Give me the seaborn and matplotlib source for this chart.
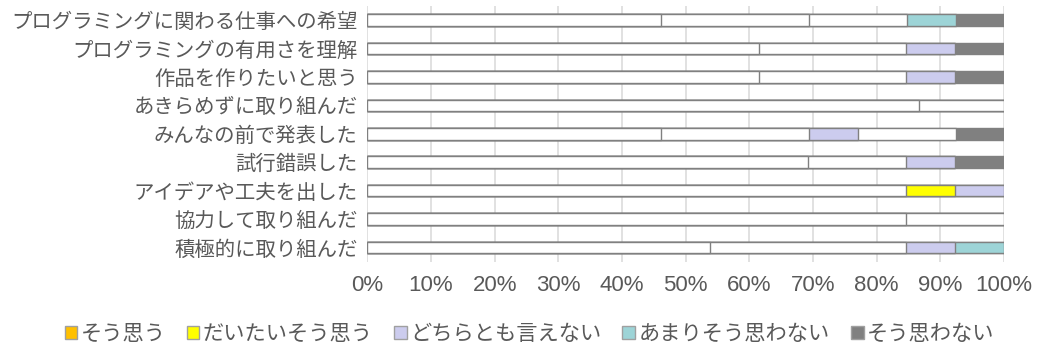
import matplotlib
matplotlib.use("Agg")
import matplotlib.pyplot as plt
import seaborn as sns
import numpy as np
import pandas as pd
from matplotlib.patches import Patch

# ---- data (percent of respondents) ----
categories = [
    "プログラミングに関わる仕事への希望",
    "プログラミングの有用さを理解",
    "作品を作りたいと思う",
    "あきらめずに取り組んだ",
    "みんなの前で発表した",
    "試行錯誤した",
    "アイデアや工夫を出した",
    "協力して取り組んだ",
    "積極的に取り組んだ",
]
series_names = ["そう思う", "だいたいそう思う", "どちらとも言えない", "あまりそう思わない", "そう思わない"]
sou_omou      = [46.2, 61.5, 61.5, 86.7, 46.2, 69.2, 84.6, 84.6, 53.8]
daitai        = [23.1, 23.1, 23.1, 13.3, 23.1, 15.4,  7.7, 15.4, 30.8]
dochira       = [15.4,  7.7,  7.7,  0.0,  7.7,  7.7,  7.7,  0.0,  7.7]
amari         = [ 7.7,  0.0,  0.0,  0.0, 15.4,  0.0,  0.0,  0.0,  7.7]
omowanai      = [ 7.7,  7.7,  7.7,  0.0,  7.7,  7.7,  0.0,  0.0,  0.0]
series_values = [sou_omou, daitai, dochira, amari, omowanai]
series_colors = ["#FFC000", "#FFFF00", "#CCCCEE", "#9DD4D7", "#808080"]
tick_values = list(range(0, 101, 10))

sns.set_theme(style="white")
plt.rcParams['font.family'] = ['Noto Sans CJK JP', 'DejaVu Sans']

fig = plt.figure(figsize=(10.38, 3.49), dpi=100)
ax = fig.add_axes([0.3539, 0.2504, 0.6133, 0.7324])

vals = np.array(series_values)
cum = np.cumsum(vals, axis=0)
edge = "#808080"
for k in range(len(series_names) - 1, -1, -1):
    df = pd.DataFrame({"cat": categories, "x": cum[k]})
    n_before = len(ax.patches)
    sns.barplot(data=df, x="x", y="cat", orient="h", color=series_colors[k],
                saturation=1, width=0.41, edgecolor=edge, linewidth=1.0, ax=ax, zorder=3)
    new = ax.patches[n_before:]
    for i, p in enumerate(new):
        # segments larger than a single respondent appear unfilled in the original
        if vals[k][i] > 10:
            p.set_facecolor("white")

ax.set_xlim(0, 100)
ax.set_ylim(len(categories) - 0.5, -0.5)
ax.set_xticks(tick_values)
ax.set_xticklabels([f"{t}%" for t in tick_values], family="Liberation Sans",
                   fontsize=16, color="#595959")
ax.set_yticks(range(len(categories)))
ax.set_yticklabels(categories, fontsize=14.7, color="#595959")
ax.tick_params(axis="x", length=0, pad=10)
ax.tick_params(axis="y", length=0, pad=7)
ax.set_xlabel("")
ax.set_ylabel("")
for s in ax.spines.values():
    s.set_visible(False)
ax.grid(axis="x", color="#D9D9D9", linewidth=1.1, zorder=0)
ax.grid(axis="y", visible=False)
ax.set_axisbelow(True)

handles = [Patch(facecolor=c, edgecolor="#A0A0A0", linewidth=1.0, label=n)
           for c, n in zip(series_colors, series_names)]
fig.legend(handles=handles, loc="center", bbox_to_anchor=(0.51, 0.043), ncol=5,
           frameon=False, fontsize=15.3, handlelength=0.6, handleheight=0.6,
           handletextpad=0.15, columnspacing=1.0, borderpad=0, borderaxespad=0,
           labelcolor="#595959")

fig.savefig("out.png", dpi=100)
